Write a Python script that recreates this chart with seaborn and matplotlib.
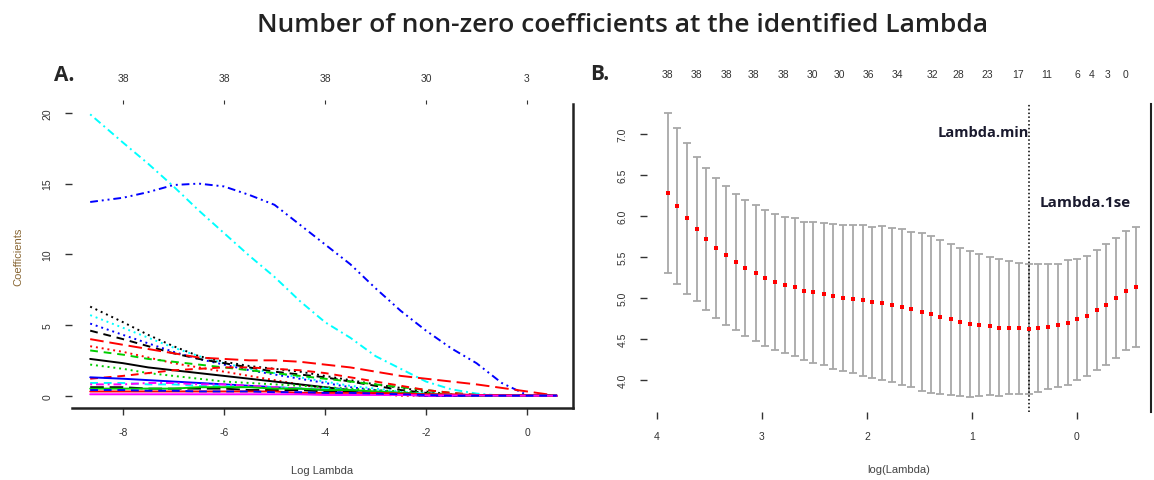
import matplotlib
matplotlib.use("Agg")
import matplotlib.pyplot as plt
import numpy as np
import pandas as pd
import seaborn as sns

# ------------------------------------------------------------------
# Panel A: LASSO coefficient paths
# ------------------------------------------------------------------
loglam_a = [-8.65, -8.0, -7.5, -7.0, -6.5, -6.0, -5.5, -5.0, -4.5, -4.0,
            -3.5, -3.0, -2.5, -2.0, -1.5, -1.0, -0.5, 0.0, 0.59]

coef_paths = [
    [19.9, 17.9, 16.4, 14.8, 13.1, 11.5, 9.9, 8.4, 6.7, 5.2, 4.1, 2.8, 1.9, 1.0, 0.45, 0.15, 0.0, 0.0, 0.0],
    [13.7, 14.0, 14.4, 14.9, 15.0, 14.8, 14.2, 13.5, 12.1, 10.7, 9.3, 7.6, 6.0, 4.6, 3.35, 2.3, 0.9, 0.05, 0.0],
    [6.3, 5.2, 4.3, 3.5, 2.8, 2.4, 2.1, 1.9, 1.7, 1.4, 1.1, 0.8, 0.55, 0.3, 0.1, 0.0, 0.0, 0.0, 0.0],
    [5.7, 4.8, 4.1, 3.4, 2.8, 2.3, 1.9, 1.6, 1.3, 1.0, 0.7, 0.5, 0.3, 0.1, 0.0, 0.0, 0.0, 0.0, 0.0],
    [5.1, 4.3, 3.7, 3.1, 2.6, 2.2, 1.8, 1.5, 1.2, 0.9, 0.6, 0.4, 0.2, 0.05, 0.0, 0.0, 0.0, 0.0, 0.0],
    [4.6, 4.0, 3.5, 3.0, 2.6, 2.3, 2.0, 1.7, 1.5, 1.3, 1.0, 0.7, 0.4, 0.2, 0.0, 0.0, 0.0, 0.0, 0.0],
    [4.0, 3.6, 3.3, 3.0, 2.7, 2.6, 2.5, 2.5, 2.4, 2.2, 2.0, 1.7, 1.4, 1.2, 1.0, 0.8, 0.55, 0.3, 0.0],
    [3.5, 3.1, 2.7, 2.3, 2.0, 1.7, 1.4, 1.1, 0.8, 0.5, 0.3, 0.1, 0.0, 0.0, 0.0, 0.0, 0.0, 0.0, 0.0],
    [3.2, 2.9, 2.6, 2.4, 2.2, 2.0, 1.8, 1.6, 1.4, 1.2, 1.0, 0.8, 0.6, 0.4, 0.2, 0.05, 0.0, 0.0, 0.0],
    [2.6, 2.3, 2.0, 1.8, 1.6, 1.4, 1.2, 1.0, 0.8, 0.6, 0.4, 0.2, 0.1, 0.0, 0.0, 0.0, 0.0, 0.0, 0.0],
    [2.2, 1.9, 1.6, 1.4, 1.2, 1.0, 0.9, 0.8, 0.7, 0.6, 0.5, 0.4, 0.3, 0.2, 0.1, 0.0, 0.0, 0.0, 0.0],
    [1.2, 1.4, 1.6, 1.8, 1.9, 2.0, 2.0, 1.9, 1.8, 1.6, 1.3, 1.0, 0.7, 0.4, 0.2, 0.05, 0.0, 0.0, 0.0],
    [1.3, 1.2, 1.1, 1.0, 0.9, 0.8, 0.7, 0.6, 0.5, 0.4, 0.3, 0.2, 0.1, 0.0, 0.0, 0.0, 0.0, 0.0, 0.0],
    [0.9, 0.9, 0.8, 0.8, 0.7, 0.7, 0.6, 0.6, 0.5, 0.5, 0.4, 0.3, 0.2, 0.15, 0.1, 0.05, 0.02, 0.0, 0.0],
    [0.8, 0.8, 0.9, 0.9, 0.8, 0.8, 0.7, 0.6, 0.5, 0.4, 0.3, 0.2, 0.1, 0.0, 0.0, 0.0, 0.0, 0.0, 0.0],
    [0.6, 0.6, 0.5, 0.5, 0.5, 0.5, 0.4, 0.4, 0.4, 0.3, 0.3, 0.2, 0.2, 0.1, 0.05, 0.0, 0.0, 0.0, 0.0],
    [0.5, 0.5, 0.5, 0.5, 0.6, 0.6, 0.6, 0.5, 0.5, 0.4, 0.4, 0.3, 0.2, 0.1, 0.05, 0.0, 0.0, 0.0, 0.0],
    [0.3, 0.3, 0.3, 0.3, 0.3, 0.3, 0.3, 0.3, 0.2, 0.2, 0.2, 0.2, 0.15, 0.1, 0.1, 0.05, 0.03, 0.02, 0.0],
    [0.1, 0.1, 0.1, 0.1, 0.1, 0.1, 0.1, 0.1, 0.1, 0.05, 0.05, 0.05, 0.05, 0.02, 0.02, 0.01, 0.0, 0.0, 0.0],
    [0.4, 0.4, 0.35, 0.35, 0.3, 0.3, 0.3, 0.25, 0.25, 0.2, 0.2, 0.15, 0.1, 0.05, 0.0, 0.0, 0.0, 0.0, 0.0],
]

a_top_pos = [-8, -6, -4, -2, 0]
a_top_lab = ["38", "38", "38", "30", "3"]
a_xticks = [-8, -6, -4, -2, 0]
a_yticks = [0, 5, 10, 15, 20]

# ------------------------------------------------------------------
# Panel B: cross-validation curve
# ------------------------------------------------------------------
loglam_b = [3.90, 3.81, 3.71, 3.62, 3.53, 3.44, 3.34, 3.25, 3.16, 3.06,
            2.97, 2.88, 2.78, 2.69, 2.60, 2.51, 2.41, 2.32, 2.23, 2.13,
            2.04, 1.95, 1.86, 1.76, 1.67, 1.58, 1.48, 1.39, 1.30, 1.20,
            1.11, 1.02, 0.93, 0.83, 0.74, 0.65, 0.55, 0.46, 0.37, 0.28,
            0.18, 0.09, 0.00, -0.10, -0.19, -0.28, -0.37, -0.47, -0.56]

cv_mean = [6.28, 6.12, 5.97, 5.84, 5.72, 5.61, 5.52, 5.44, 5.37, 5.31,
           5.24, 5.20, 5.16, 5.13, 5.09, 5.07, 5.05, 5.02, 5.00, 4.99,
           4.97, 4.95, 4.94, 4.91, 4.89, 4.86, 4.83, 4.80, 4.77, 4.74,
           4.71, 4.68, 4.67, 4.66, 4.64, 4.64, 4.63, 4.62, 4.63, 4.65,
           4.67, 4.70, 4.74, 4.78, 4.85, 4.92, 5.00, 5.09, 5.13]

cv_sd = [0.98, 0.95, 0.92, 0.88, 0.87, 0.85, 0.85, 0.83, 0.83, 0.83,
         0.83, 0.83, 0.83, 0.84, 0.84, 0.86, 0.87, 0.88, 0.89, 0.90,
         0.92, 0.92, 0.94, 0.94, 0.95, 0.94, 0.96, 0.96, 0.94, 0.92,
         0.90, 0.89, 0.87, 0.84, 0.83, 0.81, 0.80, 0.79, 0.78, 0.76,
         0.75, 0.76, 0.74, 0.73, 0.73, 0.74, 0.73, 0.73, 0.73]

lambda_min = 0.46
b_top_pos = [3.90, 3.62, 3.34, 3.08, 2.80, 2.52, 2.26, 1.99, 1.71, 1.38,
             1.13, 0.85, 0.56, 0.29, 0.00, -0.14, -0.29, -0.46]
b_top_lab = ["38", "38", "38", "38", "38", "30", "30", "36", "34", "32",
             "28", "23", "17", "11", "6", "4", "3", "0"]
b_xticks = [4, 3, 2, 1, 0]
b_yticks = [4.0, 4.5, 5.0, 5.5, 6.0, 6.5, 7.0]

# ------------------------------------------------------------------
sns.set_style("white")
plt.rcParams["font.family"] = ["Liberation Sans", "DejaVu Sans"]
plt.rcParams["axes.unicode_minus"] = False

# R matplot style cycling
path_colors = ["cyan", "blue", "black", "cyan", "blue", "black", "red", "red",
               "#00CD00", "black", "#00CD00", "red", "blue", "cyan", "magenta",
               "black", "#00CD00", "red", "magenta", "blue"]
path_dashes = [(1, 2, 4, 2), (4, 2, 1, 2, 1, 2), (1, 2), (1, 2), (1, 2), (4, 3),
               (7, 3), (1, 2), (4, 3), "", (1, 2), (4, 3), "", (4, 3),
               (1, 2, 4, 2), (7, 3), "", "", "", (4, 3)]

rows = []
for i, path in enumerate(coef_paths):
    for x, y in zip(loglam_a, path):
        rows.append({"loglam": x, "coef": y, "var": f"V{i + 1}"})
df_a = pd.DataFrame(rows)

df_b = pd.DataFrame({"loglam": loglam_b, "mse": cv_mean, "sd": cv_sd})

fig = plt.figure(figsize=(11.54, 4.81), dpi=100)
ax_a = fig.add_axes([0.0624, 0.1497, 0.4341, 0.6320])
ax_b = fig.add_axes([0.5607, 0.1414, 0.4367, 0.6403])

tick_fs = 7.5
title_font = ["Open Sans", "DejaVu Sans"]

# ---------------- Panel A ----------------
sns.lineplot(data=df_a, x="loglam", y="coef", hue="var", style="var",
             palette=path_colors, dashes=path_dashes, legend=False,
             estimator=None, sort=False, linewidth=1.4, ax=ax_a)
ax_a.set_xlim(-9.01, 0.91)
ax_a.set_ylim(-0.87, 20.63)
ax_a.set_xticks(a_xticks)
ax_a.set_yticks(a_yticks)
ax_a.tick_params(axis="both", direction="out", length=5, width=1,
                 bottom=True, left=True, labelsize=tick_fs,
                 colors="#333333", pad=9)
ax_a.tick_params(axis="y", labelrotation=90)
for lab in ax_a.get_yticklabels():
    lab.set_va("center")
ax_a.set_xlabel("Log Lambda", fontsize=8, color="#444444", labelpad=20)
ax_a.set_ylabel("Coefficients", fontsize=8, color="#886633", labelpad=14)
for side in ["left", "top"]:
    ax_a.spines[side].set_visible(False)
for side in ["bottom", "right"]:
    ax_a.spines[side].set_linewidth(1.8)
    ax_a.spines[side].set_color("#222222")

top_a = ax_a.secondary_xaxis("top")
top_a.set_xticks(a_top_pos, labels=a_top_lab)
top_a.tick_params(top=True, length=3, labelsize=tick_fs, colors="#333333", pad=12)
top_a.spines["top"].set_visible(False)

# ---------------- Panel B ----------------
ax_b.errorbar(df_b["loglam"], df_b["mse"], yerr=df_b["sd"], fmt="none",
              ecolor="#a8a8a8", elinewidth=1.3, capsize=3, capthick=1.3)
sns.scatterplot(data=df_b, x="loglam", y="mse", color="red", marker="s",
                s=9, linewidth=0, ax=ax_b, zorder=3)
ax_b.axvline(lambda_min, color="black", linestyle=(0, (1, 1.5)), linewidth=1.1)
ax_b.set_xlim(4.095, -0.705)
ax_b.set_ylim(3.61, 7.366)
ax_b.set_xticks(b_xticks)
ax_b.set_yticks(b_yticks)
ax_b.set_yticklabels([f"{v:.1f}" for v in b_yticks])
ax_b.tick_params(axis="both", direction="out", length=5, width=1,
                 bottom=True, left=True, labelsize=tick_fs,
                 colors="#333333", pad=9)
ax_b.tick_params(axis="y", labelrotation=90)
for lab in ax_b.get_yticklabels():
    lab.set_va("center")
ax_b.set_xlabel("log(Lambda)", fontsize=8, color="#444444", labelpad=16)
ax_b.set_ylabel("")
for side in ["left", "top", "bottom"]:
    ax_b.spines[side].set_visible(False)
ax_b.spines["right"].set_linewidth(1.5)
ax_b.spines["right"].set_color("#222222")

top_b = ax_b.secondary_xaxis("top")
top_b.set_xticks(b_top_pos, labels=b_top_lab)
top_b.tick_params(length=0, labelsize=tick_fs, colors="#333333", pad=18)
top_b.spines["top"].set_visible(False)

ax_b.text(lambda_min, 7.02, "Lambda.min", ha="right", va="center",
          fontsize=10.5, fontweight="bold", family=title_font, color="#1a1a2e")
ax_b.text(lambda_min - 0.10, 6.17, "Lambda.1se", ha="left", va="center",
          fontsize=11, fontweight="bold", family=title_font, color="#1a1a2e")

# ---------------- Labels & title ----------------
fig.text(0.539, 0.948, "Number of non-zero coefficients at the identified Lambda",
         ha="center", va="center", fontsize=19, fontweight="semibold",
         family=title_font, color="#222222")
fig.text(0.056, 0.842, "A.", ha="center", va="center", fontsize=15,
         fontweight="bold", family=title_font)
fig.text(0.520, 0.846, "B.", ha="center", va="center", fontsize=15,
         fontweight="bold", family=title_font)

plt.savefig("out.png", dpi=100)
plt.close()
